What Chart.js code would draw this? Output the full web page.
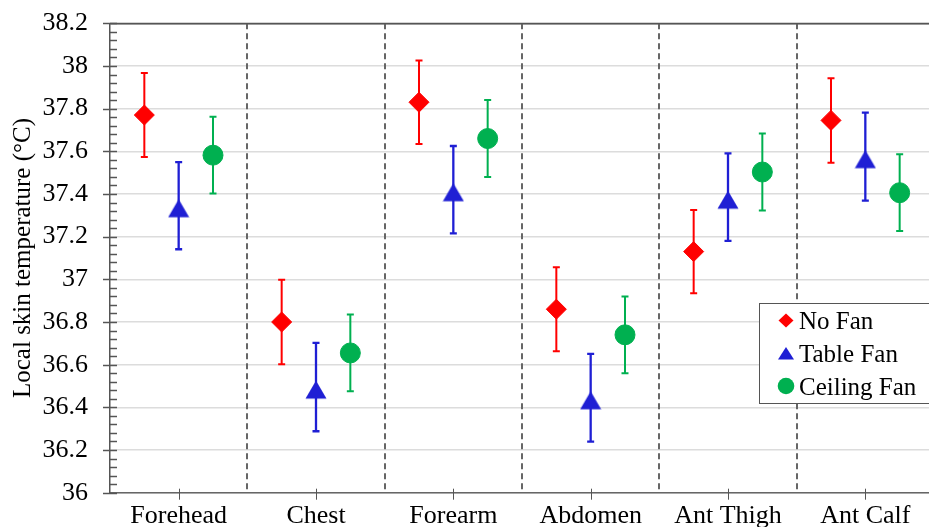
<!DOCTYPE html>
<html><head><meta charset="utf-8">
<script src="https://cdn.jsdelivr.net/npm/chart.js@4.4.0/dist/chart.umd.min.js"></script>
<style>
html,body{margin:0;padding:0;overflow:hidden;background:#fff;width:929px;height:527px}
#wrap{width:929px;height:527px}
</style></head>
<body><div id="wrap"><canvas id="c" width="929" height="527"></canvas></div>
<script>
const categories = ['Forehead', 'Chest', 'Forearm', 'Abdomen', 'Ant Thigh', 'Ant Calf'];
const seriesNames = ['No Fan', 'Table Fan', 'Ceiling Fan'];
const noFan = [37.77, 36.80, 37.83, 36.86, 37.13, 37.745];
const noFanErr = [0.197, 0.198, 0.196, 0.197, 0.195, 0.198];
const tableFan = [37.345, 36.495, 37.42, 36.445, 37.385, 37.575];
const tableFanErr = [0.204, 0.207, 0.205, 0.206, 0.205, 0.206];
const ceilingFan = [37.582, 36.655, 37.66, 36.74, 37.503, 37.406];
const ceilingFanErr = [0.18, 0.18, 0.18, 0.18, 0.18, 0.18];
const yTickValues = [36, 36.2, 36.4, 36.6, 36.8, 37, 37.2, 37.4, 37.6, 37.8, 38, 38.2];
const yTickLabels = ['36', '36.2', '36.4', '36.6', '36.8', '37', '37.2', '37.4', '37.6', '37.8', '38', '38.2'];

const RED = '#ff0000', BLUE = '#1f1fd4', GREEN = '#00b050';
const SERIF = '"Liberation Serif", "Times New Roman", serif';

// triangle marker image (Excel-style: bbox slightly below the data point)
function triImage(w, h, top, color) {
  const cv = document.createElement('canvas');
  cv.width = w; cv.height = h;
  const g = cv.getContext('2d');
  g.fillStyle = color;
  g.beginPath();
  g.moveTo(w / 2, top);
  g.lineTo(w - 0.5, h - 1.5);
  g.lineTo(0.5, h - 1.5);
  g.closePath();
  g.fill();
  return cv;
}
const triMain = triImage(22, 26, 6.5, BLUE);

const offsets = [-0.25, 0, 0.25];
const values = [noFan, tableFan, ceilingFan];
const errors = [noFanErr, tableFanErr, ceilingFanErr];
const colors = [RED, BLUE, GREEN];

const extras = {
  id: 'extras',
  beforeDatasetsDraw(chart) {
    const ctx = chart.ctx, xs = chart.scales.x, ys = chart.scales.y, ca = chart.chartArea;
    ctx.save();
    // dashed separators
    ctx.strokeStyle = '#666';
    ctx.lineWidth = 2;
    ctx.setLineDash([6, 4]);
    for (let i = 0; i < categories.length - 1; i++) {
      const px = Math.round(xs.getPixelForValue(i + 0.5));
      ctx.beginPath();
      ctx.moveTo(px, ca.top);
      ctx.lineTo(px, ca.bottom);
      ctx.stroke();
    }
    ctx.setLineDash([]);
    // error bars
    values.forEach((arr, s) => {
      ctx.strokeStyle = colors[s];
      ctx.lineWidth = s === 1 ? 2.3 : 2;
      arr.forEach((v, i) => {
        const px = xs.getPixelForValue(i + offsets[s]);
        const yt = ys.getPixelForValue(v + errors[s][i]);
        const yb = ys.getPixelForValue(v - errors[s][i]);
        ctx.beginPath();
        ctx.moveTo(px, yt); ctx.lineTo(px, yb);
        ctx.moveTo(px - 3.5, yt); ctx.lineTo(px + 3.5, yt);
        ctx.moveTo(px - 3.5, yb); ctx.lineTo(px + 3.5, yb);
        ctx.stroke();
      });
    });
    ctx.restore();
  },
  afterDraw(chart) {
    const ctx = chart.ctx, xs = chart.scales.x, ys = chart.scales.y, ca = chart.chartArea;
    ctx.save();
    // y ticks (major crossing, minor inward)
    ctx.strokeStyle = '#555';
    ctx.lineWidth = 1.5;
    const ax = ca.left;
    for (let k = 0; k <= 55; k++) {
      const v = 36 + k * 0.04;
      const py = Math.round(ys.getPixelForValue(v)) + 0.5;
      ctx.beginPath();
      if (k % 5 === 0) { ctx.moveTo(ax - 7, py); ctx.lineTo(ax + 7, py); }
      else { ctx.moveTo(ax, py); ctx.lineTo(ax + 7, py); }
      ctx.stroke();
    }
    // top border
    ctx.beginPath();
    ctx.moveTo(ax, Math.round(ca.top) + 0.5); ctx.lineTo(ca.right, Math.round(ca.top) + 0.5);
    ctx.stroke();
    // x ticks
    ctx.lineWidth = 1;
    for (let i = 0; i < categories.length; i++) {
      const px = Math.round(xs.getPixelForValue(i)) + 0.5;
      ctx.beginPath();
      ctx.moveTo(px, ca.bottom - 4); ctx.lineTo(px, ca.bottom + 7);
      ctx.stroke();
    }
    // legend
    const lx = 759.5, ly = 303.5, lw = 200, lh = 100;
    ctx.fillStyle = '#fff';
    ctx.fillRect(lx, ly, lw, lh);
    ctx.strokeStyle = '#555';
    ctx.lineWidth = 1;
    ctx.strokeRect(lx, ly, lw, lh);
    const my = [320.5, 353.5, 386], by = [328.5, 361.5, 394.5];
    const mx = 786;
    seriesNames.forEach((name, s) => {
      ctx.fillStyle = colors[s];
      ctx.strokeStyle = colors[s];
      ctx.beginPath();
      if (s === 0) {
        ctx.moveTo(mx - 7.5, my[s]); ctx.lineTo(mx, my[s] - 7); ctx.lineTo(mx + 7.5, my[s]); ctx.lineTo(mx, my[s] + 7);
      } else if (s === 1) {
        ctx.moveTo(mx, my[s] - 6.5); ctx.lineTo(mx + 8, my[s] + 6); ctx.lineTo(mx - 8, my[s] + 6);
      } else {
        ctx.arc(mx, my[s], 8.3, 0, Math.PI * 2);
      }
      ctx.closePath();
      ctx.fill();
      ctx.fillStyle = '#000';
      ctx.font = '25px ' + SERIF;
      ctx.textBaseline = 'alphabetic';
      ctx.textAlign = 'left';
      ctx.fillText(name, 799, by[s]);
    });
    ctx.restore();
  }
};

const datasets = values.map((arr, s) => ({
  label: seriesNames[s],
  data: arr.map((v, i) => ({ x: i + offsets[s], y: v })),
  showLine: false,
  backgroundColor: colors[s],
  borderColor: colors[s],
  borderWidth: 1,
  pointStyle: s === 0 ? 'rectRot' : (s === 1 ? triMain : 'circle'),
  pointRadius: 10,
  pointHoverRadius: 10
}));

new Chart(document.getElementById('c'), {
  type: 'scatter',
  data: { datasets },
  plugins: [extras],
  options: {
    responsive: false,
    animation: false,
    devicePixelRatio: 1,
    layout: { autoPadding: false, padding: { left: 0, top: 23.3, right: 0, bottom: 0 } },
    plugins: { legend: { display: false }, tooltip: { enabled: false } },
    scales: {
      x: {
        type: 'linear', min: -0.5, max: 5.4636,
        afterBuildTicks: s => { s.ticks = categories.map((c, i) => ({ value: i })); },
        afterFit: s => { s.height = 34.3; s.paddingLeft = 0; s.paddingRight = 0; },
        ticks: {
          callback: (v) => categories[v] !== undefined ? categories[v] : '',
          font: { family: SERIF, size: 26 }, color: '#000', padding: 8,
          maxRotation: 0, autoSkip: false
        },
        grid: { display: true, drawOnChartArea: false, drawTicks: false },
        border: { display: true, color: '#666', width: 1.5 }
      },
      y: {
        min: 36, max: 38.2,
        afterBuildTicks: s => { s.ticks = yTickValues.map(v => ({ value: v })); },
        afterFit: s => { s.width = 110; s.paddingTop = 0; s.paddingBottom = 0; },
        ticks: {
          callback: (v, i) => yTickLabels[i],
          font: { family: SERIF, size: 26 }, color: '#000', padding: 22
        },
        grid: {
          drawTicks: false,
          color: c => (c.tick && c.tick.value > 38.15) ? '#666' : '#dcdcdc',
          lineWidth: 1.5
        },
        border: { display: true, color: '#555', width: 1.5 },
        title: {
          display: true, text: 'Local skin temperature (°C)',
          font: { family: SERIF, size: 25 }, color: '#000', padding: { top: 8, bottom: 0 }
        }
      }
    }
  }
});
</script>
</body></html>
